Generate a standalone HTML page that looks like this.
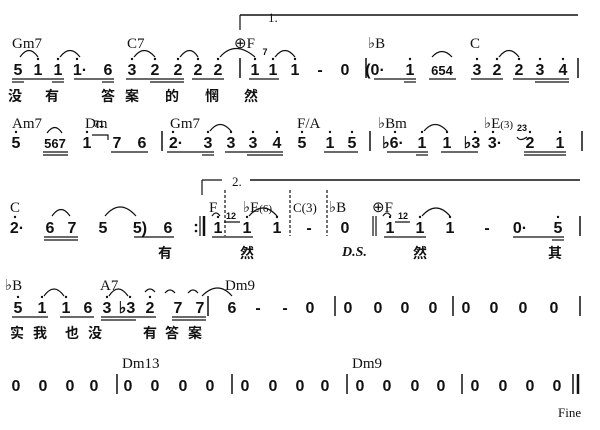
<!DOCTYPE html>
<html><head><meta charset="utf-8"><style>
html,body{margin:0;padding:0;background:#fff;}
svg{display:block}
.n{font:bold 16px "Liberation Sans",sans-serif;text-anchor:middle;fill:#111}
.c{font:15px "Liberation Serif",serif;fill:#111}
.l{font:bold 14px "Liberation Sans","Noto Sans CJK SC",sans-serif;fill:#111;text-anchor:middle}
.s{font:bold 9px "Liberation Sans",sans-serif;fill:#111;text-anchor:middle}
line,path{stroke:#111;fill:none}
</style></head><body>
<svg width="600" height="430" viewBox="0 0 600 430" xmlns="http://www.w3.org/2000/svg">
<!-- ROW 1 -->
<line x1="240" y1="15" x2="578" y2="15" stroke-width="1.5"/>
<line x1="240" y1="15" x2="240" y2="30" stroke-width="1.2"/>
<text class="c" x="268" y="22" style="font-size:13px">1.</text>
<text class="c" x="12" y="48">Gm7</text>
<text class="c" x="127" y="48">C7</text>
<text class="c" x="234" y="48">⊕F</text>
<text class="c" x="368" y="48">♭B</text>
<text class="c" x="470" y="48">C</text>
<g class="n">
<text x="18" y="75">5</text><text x="38" y="75">1</text><text x="58" y="75">1</text><text x="80" y="75">1·</text><text x="108" y="75">6</text>
<text x="132" y="75">3</text><text x="155" y="75">2</text><text x="178" y="75">2</text><text x="198" y="75">2</text><text x="218" y="75">2</text>
<text x="255" y="75">1</text><text x="273" y="75">1</text><text x="295" y="75">1</text><text x="320" y="75">-</text><text x="345" y="75">0</text>
<text x="375" y="75">(0·</text><text x="410" y="75">1</text><text x="442" y="75" style="font-size:13px">654</text>
<text x="477" y="75">3</text><text x="497" y="75">2</text><text x="519" y="75">2</text><text x="540" y="75">3</text><text x="563" y="75">4</text>
</g>
<text class="s" x="265" y="55">7</text>
<g fill="#111" stroke="none">
<circle cx="38" cy="59" r="1.2"/><circle cx="58" cy="59" r="1.2"/><circle cx="77" cy="59" r="1.2"/><circle cx="132" cy="59" r="1.2"/><circle cx="155" cy="59" r="1.2"/><circle cx="178" cy="59" r="1.2"/><circle cx="198" cy="59" r="1.2"/><circle cx="218" cy="59" r="1.2"/><circle cx="255" cy="59" r="1.2"/><circle cx="273" cy="59" r="1.2"/><circle cx="295" cy="59" r="1.2"/><circle cx="410" cy="59" r="1.2"/><circle cx="477" cy="59" r="1.2"/><circle cx="497" cy="59" r="1.2"/><circle cx="519" cy="59" r="1.2"/><circle cx="540" cy="59" r="1.2"/><circle cx="563" cy="59" r="1.2"/>
</g>
<path d="M20 57 Q29 44 38 57 M60 57 Q70 44 80 57 M134 57 Q144 44 155 57 M180 57 Q190 44 198 57 M220 57 Q235 40 255 57 M275 57 Q285 44 295 57 M432 57 Q442 46 452 57 M499 57 Q509 44 519 57" stroke-width="1.2"/>
<g stroke-width="1.2">
<line x1="12" y1="79" x2="64" y2="79"/><line x1="12" y1="82" x2="24" y2="82"/><line x1="52" y1="82" x2="64" y2="82"/>
<line x1="74" y1="79" x2="114" y2="79"/><line x1="102" y1="82" x2="114" y2="82"/>
<line x1="126" y1="79" x2="184" y2="79"/><line x1="150" y1="82" x2="184" y2="82"/>
<line x1="192" y1="79" x2="224" y2="79"/>
<line x1="249" y1="79" x2="279" y2="79"/>
<line x1="374" y1="79" x2="416" y2="79"/><line x1="404" y1="82" x2="416" y2="82"/>
<line x1="429" y1="79" x2="456" y2="79"/>
<line x1="471" y1="79" x2="503" y2="79"/><line x1="513" y1="79" x2="569" y2="79"/><line x1="535" y1="82" x2="569" y2="82"/>
<line x1="240" y1="58" x2="240" y2="78" stroke-width="1.5"/>
<line x1="366" y1="58" x2="366" y2="78" stroke-width="1.5"/>
<line x1="578" y1="58" x2="578" y2="78" stroke-width="1.5"/>
</g>
<g class="l">
<text x="15" y="101">没</text><text x="52" y="101">有</text><text x="108" y="101">答</text><text x="132" y="101">案</text><text x="172" y="101">的</text><text x="212" y="101">惘</text><text x="251" y="101">然</text>
</g>

<!-- ROW 2 -->
<text class="c" x="12" y="128">Am7</text>
<text class="c" x="85" y="128">Dm</text>
<text class="c" x="170" y="128">Gm7</text>
<text class="c" x="297" y="128">F/A</text>
<text class="c" x="378" y="128">♭Bm</text>
<text class="c" x="484" y="128">♭E<tspan style="font-size:11px">(3)</tspan></text>
<g class="n">
<text x="16" y="148">5</text><text x="55" y="148" style="font-size:13px">567</text><text x="87" y="148">1</text><text x="117" y="148">7</text><text x="142" y="148">6</text>
<text x="176" y="148">2·</text><text x="208" y="148">3</text><text x="231" y="148">3</text><text x="253" y="148">3</text><text x="277" y="148">4</text>
<text x="302" y="148">5</text><text x="330" y="148">1</text><text x="352" y="148">5</text>
<text x="393" y="148">♭6·</text><text x="422" y="148">1</text><text x="447" y="148">1</text><text x="472" y="148">♭3</text><text x="495" y="148">3·</text><text x="530" y="148">2</text><text x="560" y="148">1</text>
</g>
<text class="s" x="99" y="127">71</text><text class="s" x="522" y="131">23</text>
<g fill="#111" stroke="none">
<circle cx="16" cy="132" r="1.2"/><circle cx="87" cy="132" r="1.2"/><circle cx="173" cy="132" r="1.2"/><circle cx="208" cy="132" r="1.2"/><circle cx="231" cy="132" r="1.2"/><circle cx="253" cy="132" r="1.2"/><circle cx="277" cy="132" r="1.2"/><circle cx="302" cy="132" r="1.2"/><circle cx="330" cy="132" r="1.2"/><circle cx="352" cy="132" r="1.2"/><circle cx="395" cy="132" r="1.2"/><circle cx="422" cy="132" r="1.2"/><circle cx="447" cy="132" r="1.2"/><circle cx="475" cy="132" r="1.2"/><circle cx="493" cy="132" r="1.2"/><circle cx="530" cy="132" r="1.2"/><circle cx="560" cy="132" r="1.2"/>
</g>
<path d="M47 133 Q55 122 62 133 M210 131 Q220 118 231 131 M424 131 Q435 118 447 131 M92 135 L108 135 L108 140 M517 137 Q520 142 527 137" stroke-width="1.2"/>
<g stroke-width="1.2">
<line x1="43" y1="152" x2="68" y2="152"/><line x1="43" y1="155" x2="68" y2="155"/>
<line x1="111" y1="152" x2="148" y2="152"/>
<line x1="167" y1="152" x2="214" y2="152"/><line x1="202" y1="155" x2="214" y2="155"/>
<line x1="225" y1="152" x2="283" y2="152"/><line x1="247" y1="155" x2="283" y2="155"/>
<line x1="324" y1="152" x2="358" y2="152"/>
<line x1="387" y1="152" x2="428" y2="152"/><line x1="416" y1="155" x2="428" y2="155"/>
<line x1="441" y1="152" x2="478" y2="152"/>
<line x1="524" y1="152" x2="566" y2="152"/><line x1="524" y1="155" x2="566" y2="155"/>
<line x1="162" y1="131" x2="162" y2="151" stroke-width="1.5"/>
<line x1="370" y1="131" x2="370" y2="151" stroke-width="1.5"/>
<line x1="582" y1="131" x2="582" y2="151" stroke-width="1.5"/>
</g>

<!-- ROW 3 -->
<line x1="202" y1="180" x2="222" y2="180" stroke-width="1.2"/>
<line x1="202" y1="180" x2="202" y2="195" stroke-width="1.2"/>
<text class="c" x="232" y="186" style="font-size:13px">2.</text>
<line x1="250" y1="180" x2="580" y2="180" stroke-width="1.5"/>
<text class="c" x="10" y="212">C</text>
<text class="c" x="209" y="212">F</text>
<text class="c" x="243" y="212">♭E<tspan style="font-size:11px">(6)</tspan></text>
<text class="c" x="293" y="212" style="font-size:13px">C(3)</text>
<text class="c" x="329" y="212">♭B</text>
<text class="c" x="372" y="212">⊕F</text>
<g class="n">
<text x="17" y="233">2·</text><text x="50" y="233">6</text><text x="72" y="233">7</text><text x="103" y="233">5</text><text x="140" y="233">5)</text><text x="168" y="233">6</text>
<text x="218" y="233">1</text><text x="247" y="233">1</text><text x="277" y="233">1</text><text x="309" y="233">-</text><text x="345" y="233">0</text>
<text x="390" y="233">1</text><text x="420" y="233">1</text><text x="450" y="233">1</text><text x="487" y="233">-</text><text x="520" y="233">0·</text><text x="558" y="233">5</text>
</g>
<text class="s" x="231" y="219">12</text><text class="s" x="403" y="219">12</text>
<g fill="#111" stroke="none">
<circle cx="15" cy="217" r="1.2"/><circle cx="218" cy="217" r="1.2"/><circle cx="247" cy="217" r="1.2"/><circle cx="277" cy="217" r="1.2"/><circle cx="390" cy="217" r="1.2"/><circle cx="420" cy="217" r="1.2"/><circle cx="450" cy="217" r="1.2"/><circle cx="558" cy="217" r="1.2"/>
<circle cx="196" cy="225" r="1.3"/><circle cx="196" cy="231" r="1.3"/>
</g>
<path d="M52 216 Q61 203 70 216 M105 216 Q120 198 136 216 M249 216 Q263 200 277 216 M422 216 Q436 200 450 216 M212 216 Q216 210 220 216 M383 216 Q387 210 391 216 M224 222 L240 222 M395 222 L410 222" stroke-width="1.2"/>
<g stroke-width="1.2">
<line x1="44" y1="237" x2="78" y2="237"/><line x1="44" y1="240" x2="78" y2="240"/>
<line x1="134" y1="237" x2="174" y2="237"/>
<line x1="212" y1="237" x2="253" y2="237"/>
<line x1="384" y1="237" x2="426" y2="237"/>
<line x1="513" y1="237" x2="564" y2="237"/><line x1="552" y1="240" x2="564" y2="240"/>
<line x1="200" y1="216" x2="200" y2="236" stroke-width="1.2"/>
<line x1="204" y1="216" x2="204" y2="236" stroke-width="2.5"/>
<line x1="225" y1="190" x2="225" y2="236" stroke-dasharray="3,2"/>
<line x1="290" y1="190" x2="290" y2="236" stroke-dasharray="3,2"/>
<line x1="327" y1="190" x2="327" y2="236" stroke-dasharray="3,2"/>
<line x1="373" y1="216" x2="373" y2="236"/><line x1="376" y1="216" x2="376" y2="236"/>
<line x1="580" y1="216" x2="580" y2="236" stroke-width="1.5"/>
</g>
<g class="l">
<text x="165" y="258">有</text><text x="247" y="258">然</text><text x="420" y="258">然</text><text x="555" y="258">其</text>
</g>
<text x="342" y="256" style="font:italic bold 14px 'Liberation Serif',serif" fill="#111">D.S.</text>

<!-- ROW 4 -->
<text class="c" x="5" y="290">♭B</text>
<text class="c" x="100" y="290">A7</text>
<text class="c" x="225" y="290">Dm9</text>
<g class="n">
<text x="18" y="313">5</text><text x="42" y="313">1</text><text x="66" y="313">1</text><text x="88" y="313">6</text>
<text x="107" y="313">3</text><text x="127" y="313">♭3</text><text x="150" y="313">2</text><text x="178" y="313">7</text><text x="200" y="313">7</text>
<text x="232" y="313">6</text><text x="258" y="313">-</text><text x="285" y="313">-</text><text x="310" y="313">0</text>
<text x="348" y="313">0</text><text x="378" y="313">0</text><text x="405" y="313">0</text><text x="433" y="313">0</text>
<text x="466" y="313">0</text><text x="494" y="313">0</text><text x="523" y="313">0</text><text x="554" y="313">0</text>
</g>
<g fill="#111" stroke="none">
<circle cx="18" cy="297" r="1.2"/><circle cx="42" cy="297" r="1.2"/><circle cx="66" cy="297" r="1.2"/><circle cx="107" cy="297" r="1.2"/><circle cx="130" cy="297" r="1.2"/><circle cx="150" cy="297" r="1.2"/>
</g>
<path d="M44 296 Q54 282 64 296 M109 296 Q118 282 128 296 M145 292 Q150 286 155 292 M165 293 Q170 287 175 293 M188 293 Q193 287 198 293 M202 296 Q218 280 232 296" stroke-width="1.2"/>
<g stroke-width="1.2">
<line x1="12" y1="317" x2="48" y2="317"/><line x1="60" y1="317" x2="94" y2="317"/>
<line x1="101" y1="317" x2="156" y2="317"/><line x1="101" y1="320" x2="136" y2="320"/>
<line x1="172" y1="317" x2="206" y2="317"/><line x1="172" y1="320" x2="206" y2="320"/>
<line x1="208" y1="296" x2="208" y2="316" stroke-width="1.5"/>
<line x1="335" y1="296" x2="335" y2="316" stroke-width="1.5"/>
<line x1="453" y1="296" x2="453" y2="316" stroke-width="1.5"/>
<line x1="580" y1="296" x2="580" y2="316" stroke-width="1.5"/>
</g>
<g class="l">
<text x="17" y="338">实</text><text x="40" y="338">我</text><text x="72" y="338">也</text><text x="95" y="338">没</text><text x="150" y="338">有</text><text x="172" y="338">答</text><text x="195" y="338">案</text>
</g>

<!-- ROW 5 -->
<text class="c" x="122" y="368">Dm13</text>
<text class="c" x="352" y="368">Dm9</text>
<g class="n">
<text x="16" y="391">0</text><text x="43" y="391">0</text><text x="70" y="391">0</text><text x="94" y="391">0</text>
<text x="128" y="391">0</text><text x="155" y="391">0</text><text x="183" y="391">0</text><text x="210" y="391">0</text>
<text x="245" y="391">0</text><text x="273" y="391">0</text><text x="300" y="391">0</text><text x="325" y="391">0</text>
<text x="360" y="391">0</text><text x="387" y="391">0</text><text x="415" y="391">0</text><text x="441" y="391">0</text>
<text x="475" y="391">0</text><text x="503" y="391">0</text><text x="530" y="391">0</text><text x="557" y="391">0</text>
</g>
<g stroke-width="1.5">
<line x1="117" y1="374" x2="117" y2="394"/><line x1="232" y1="374" x2="232" y2="394"/><line x1="347" y1="374" x2="347" y2="394"/><line x1="462" y1="374" x2="462" y2="394"/>
<line x1="573" y1="374" x2="573" y2="394"/><line x1="578" y1="374" x2="578" y2="394" stroke-width="2.5"/>
</g>
<text class="c" x="558" y="417" style="font-size:13px">Fine</text>
</svg>
</body></html>
